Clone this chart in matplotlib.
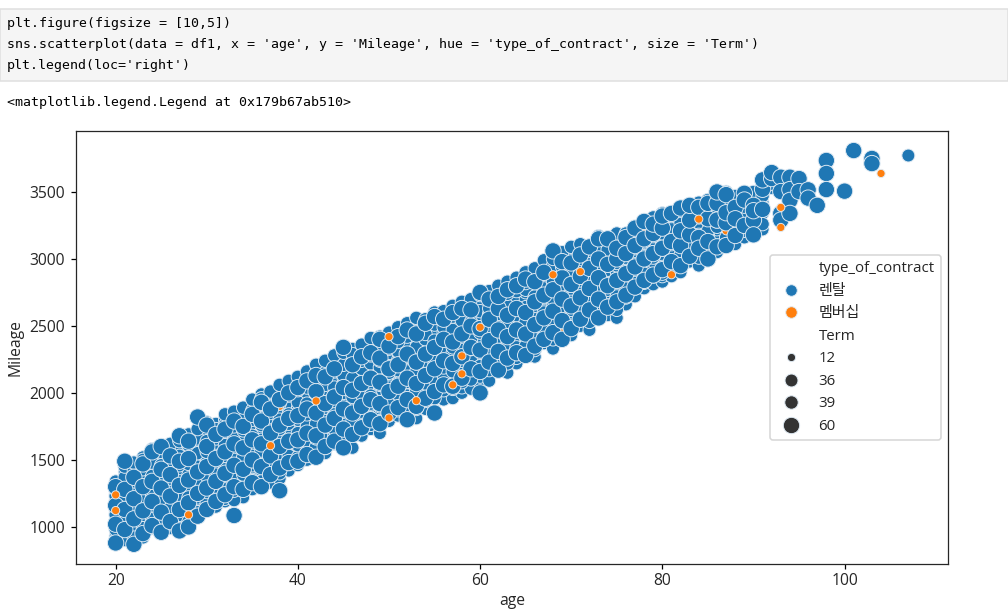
import matplotlib
matplotlib.use('Agg')
import matplotlib.pyplot as plt
import numpy as np
import pandas as pd
import seaborn as sns
from matplotlib.patches import Rectangle

plt.rcParams['font.family'] = ['Open Sans', 'Noto Sans CJK KR', 'DejaVu Sans']
plt.rcParams['lines.markersize'] = 7.4
plt.rcParams['text.color'] = '#262626'
plt.rcParams['axes.labelcolor'] = '#262626'
plt.rcParams['xtick.labelcolor'] = '#262626'
plt.rcParams['ytick.labelcolor'] = '#262626'
plt.rcParams['axes.edgecolor'] = '#262626'
plt.rcParams['xtick.major.pad'] = 2

W, H = 1008, 611
DPI = 112.5

# one row per age, 20 to 92
ages = list(range(20, 93))

# values, lower layer (Term 36)
mileage_36 = [
    [930, 1050, 1110, 1200, 1250, 1340],
    [900, 990, 1080, 1190, 1330, 1410],
    [950, 1010, 1120, 1270, 1320, 1450],
    [920, 1060, 1180, 1240, 1390, 1520],
    [990, 1090, 1140, 1270, 1420, 1510],
    [1030, 1170, 1220, 1360, 1490, 1550],
    [990, 1110, 1170, 1310, 1450, 1600],
    [1040, 1190, 1250, 1380, 1420, 1570],
    [1070, 1120, 1260, 1300, 1440, 1580],
    [1130, 1190, 1310, 1360, 1480, 1600, 1700],
    [1170, 1230, 1350, 1390, 1520, 1670],
    [1150, 1260, 1420, 1460, 1570, 1620, 1770],
    [1190, 1310, 1350, 1490, 1650, 1690, 1800],
    [1230, 1360, 1410, 1540, 1580, 1710, 1830],
    [1220, 1350, 1490, 1530, 1670, 1820, 1870],
    [1280, 1420, 1560, 1590, 1720, 1770, 1900],
    [1370, 1400, 1530, 1680, 1710, 1860, 1990],
    [1330, 1460, 1600, 1640, 1770, 1930, 1980],
    [1360, 1510, 1540, 1680, 1830, 1870, 2020],
    [1420, 1550, 1590, 1720, 1870, 1920, 2060],
    [1460, 1580, 1610, 1750, 1890, 1960, 2100],
    [1500, 1620, 1670, 1790, 1950, 1990, 2120],
    [1560, 1600, 1740, 1780, 1920, 2050, 2170],
    [1550, 1680, 1720, 1860, 1990, 2030, 2190],
    [1620, 1650, 1790, 1930, 1970, 2100, 2240],
    [1640, 1770, 1800, 1940, 2070, 2110, 2270],
    [1590, 1720, 1860, 1890, 2040, 2170, 2330],
    [1680, 1810, 1950, 1980, 2110, 2160, 2290],
    [1730, 1760, 1900, 2020, 2060, 2190, 2340],
    [1700, 1850, 1980, 2030, 2150, 2280, 2360],
    [1790, 1830, 1960, 2090, 2130, 2270, 2400],
    [1830, 1950, 1990, 2120, 2250, 2300, 2430],
    [1800, 1910, 2050, 2080, 2210, 2340, 2470],
    [1810, 1960, 2090, 2130, 2270, 2390, 2510],
    [1880, 2010, 2050, 2180, 2310, 2360, 2490],
    [1870, 2030, 2150, 2190, 2320, 2450, 2550],
    [1950, 2080, 2110, 2250, 2370, 2420, 2540],
    [1960, 2100, 2230, 2270, 2400, 2510, 2590],
    [2000, 2040, 2180, 2300, 2340, 2470, 2620],
    [2030, 2170, 2290, 2330, 2460, 2580, 2630],
    [2070, 2120, 2250, 2380, 2410, 2550, 2680],
    [2090, 2210, 2250, 2390, 2510, 2560, 2710],
    [2180, 2220, 2350, 2470, 2510, 2640, 2730],
    [2150, 2290, 2410, 2450, 2590, 2680, 2770],
    [2220, 2260, 2390, 2510, 2550, 2700, 2800],
    [2280, 2410, 2450, 2570, 2700, 2750, 2850],
    [2270, 2340, 2480, 2600, 2640, 2780, 2880],
    [2370, 2410, 2530, 2660, 2710, 2830, 2940],
    [2330, 2470, 2590, 2630, 2760, 2880, 2920],
    [2400, 2440, 2570, 2700, 2740, 2870, 2990],
    [2430, 2550, 2600, 2730, 2850, 2890, 3030],
    [2500, 2540, 2670, 2790, 2830, 2960],
    [2470, 2600, 2720, 2760, 2890, 3010, 3060],
    [2560, 2600, 2730, 2850, 2890, 3020],
    [2580, 2700, 2750, 2880, 3000, 3100],
    [2560, 2650, 2780, 2900, 2950, 3080, 3140],
    [2660, 2710, 2840, 2960, 3000, 3130],
    [2720, 2850, 2890, 3010, 3130, 3170],
    [2780, 2820, 2950, 3070, 3110, 3210],
    [2810, 2940, 2980, 3100, 3200, 3270],
    [2830, 2870, 3000, 3120, 3160, 3290],
    [2870, 3000, 3040, 3170, 3270],
    [2900, 2960, 3090, 3210, 3310],
    [2980, 3020, 3140, 3260, 3340],
    [2950, 3080, 3120, 3250, 3370],
    [2990, 3110, 3150, 3280, 3390],
    [3050, 3180, 3220, 3330, 3400],
    [3100, 3230, 3360, 3460],
    [3110, 3170, 3300, 3430],
    [3160, 3290, 3330, 3440],
    [3250, 3380, 3460],
    [3220, 3340, 3420],
    [3530, 3620],
]

# middle layer (Term 39), sits in the gaps of the other two
mileage_39 = [
    [900, 980, 1090, 1230, 1280],
    [1040, 1170, 1240, 1370, 1450],
    [920, 1090, 1160, 1240, 1420, 1480],
    [990, 1090, 1210, 1340, 1430, 1500],
    [1060, 1160, 1230, 1380, 1480, 1580],
    [1000, 1070, 1200, 1330, 1460, 1560],
    [1020, 1140, 1270, 1360, 1490, 1620],
    [1090, 1220, 1340, 1460, 1530, 1640],
    [1040, 1150, 1220, 1390, 1470, 1610, 1690],
    [1110, 1220, 1340, 1450, 1550, 1660, 1730],
    [1180, 1260, 1380, 1480, 1560, 1640, 1780],
    [1220, 1300, 1390, 1530, 1660, 1730],
    [1210, 1280, 1430, 1530, 1610, 1760, 1840],
    [1200, 1270, 1380, 1500, 1670, 1750, 1860],
    [1310, 1390, 1520, 1630, 1720, 1800, 1890],
    [1350, 1460, 1530, 1680, 1800, 1870, 1950],
    [1340, 1480, 1570, 1650, 1760, 1910, 1960],
    [1420, 1500, 1570, 1720, 1850, 1900, 2010],
    [1400, 1450, 1590, 1730, 1800, 1920, 2060],
    [1470, 1530, 1650, 1770, 1840, 1980, 2090],
    [1520, 1610, 1700, 1800, 1930, 2020, 2120],
    [1560, 1640, 1750, 1840, 1920, 2040, 2160],
    [1600, 1660, 1770, 1890, 1990, 2100, 2210],
    [1590, 1650, 1790, 1890, 2060, 2150, 2240],
    [1680, 1730, 1840, 1980, 2040, 2160, 2280],
    [1690, 1740, 1860, 2000, 2130, 2210, 2300],
    [1740, 1790, 1910, 1970, 2110, 2230, 2290],
    [1740, 1860, 1990, 2060, 2180, 2240, 2360],
    [1810, 1920, 1980, 2100, 2220, 2280, 2410],
    [1790, 1900, 2060, 2190, 2240, 2340, 2420],
    [1850, 1920, 2040, 2150, 2200, 2330, 2450],
    [1870, 1990, 2070, 2170, 2310, 2380, 2490],
    [1870, 1980, 2130, 2160, 2270, 2420, 2520],
    [1880, 2020, 2160, 2220, 2340, 2450, 2560],
    [1940, 2070, 2130, 2240, 2400, 2440, 2550],
    [1960, 2100, 2220, 2260, 2390, 2510, 2600],
    [2020, 2130, 2190, 2310, 2450, 2490, 2610],
    [2030, 2160, 2300, 2340, 2470, 2570, 2650],
    [2080, 2110, 2240, 2370, 2420, 2540, 2680],
    [2100, 2240, 2360, 2400, 2530, 2640, 2700],
    [2180, 2200, 2310, 2450, 2490, 2610, 2730],
    [2170, 2280, 2320, 2460, 2590, 2630, 2760],
    [2250, 2300, 2420, 2540, 2590, 2700, 2800],
    [2220, 2350, 2490, 2520, 2650, 2740, 2830],
    [2290, 2340, 2460, 2580, 2630, 2760, 2860],
    [2350, 2490, 2530, 2640, 2770, 2820, 2900],
    [2320, 2410, 2550, 2670, 2720, 2850, 2930],
    [2440, 2480, 2600, 2730, 2780, 2900, 2990],
    [2400, 2540, 2660, 2700, 2830, 2950, 3000],
    [2470, 2510, 2640, 2770, 2810, 2940, 3050],
    [2490, 2620, 2680, 2800, 2920, 2970, 3090],
    [2560, 2610, 2740, 2860, 2900, 3030, 3110],
    [2530, 2670, 2790, 2830, 2960, 3080],
    [2620, 2670, 2800, 2920, 2960, 3090, 3170],
    [2640, 2770, 2820, 2950, 3070, 3150],
    [2620, 2720, 2850, 2970, 3020, 3140, 3190],
    [2730, 2780, 2910, 3030, 3070, 3190],
    [2780, 2920, 2960, 3080, 3190, 3240],
    [2840, 2890, 3020, 3130, 3180, 3280],
    [2870, 3010, 3050, 3170, 3260, 3310],
    [2890, 2940, 3070, 3190, 3230, 3340],
    [2930, 3070, 3110, 3230, 3320],
    [2960, 3030, 3150, 3270, 3360],
    [3040, 3090, 3200, 3310, 3380],
    [3010, 3140, 3180, 3310, 3420],
    [3040, 3170, 3210, 3340, 3440],
    [3100, 3240, 3280, 3380, 3460],
    [3160, 3290, 3410, 3500],
    [3170, 3230, 3360, 3470],
    [3210, 3340, 3390, 3480],
    [3300, 3420, 3500],
    [3260, 3390, 3470],
    [3560, 3600],
]

# values, upper layer (Term 60)
mileage_60 = [
    [880, 1020, 1160, 1300],
    [980, 1130, 1280, 1490],
    [870, 1060, 1210, 1370],
    [950, 1120, 1300, 1470],
    [1010, 1190, 1340, 1560],
    [960, 1110, 1290, 1430, 1600],
    [1040, 1230, 1390, 1530],
    [970, 1130, 1310, 1490, 1680],
    [1000, 1180, 1350, 1510, 1640],
    [1080, 1250, 1410, 1820],
    [1130, 1290, 1450, 1600, 1760],
    [1190, 1340, 1510, 1690],
    [1240, 1400, 1560, 1730],
    [1085, 1300, 1460, 1620, 1790],
    [1280, 1430, 1590, 1750],
    [1330, 1500, 1650, 1840],
    [1300, 1450, 1620, 1790, 1930],
    [1390, 1530, 1700, 1880],
    [1270, 1440, 1600, 1760, 1950],
    [1480, 1640, 1810, 2000],
    [1490, 1650, 1830, 2040],
    [1540, 1700, 1880, 2090],
    [1520, 1680, 1850, 2010, 2130],
    [1600, 1760, 1920, 2120],
    [1640, 1810, 1970, 2180],
    [1590, 1730, 1880, 2040, 2340],
    [1690, 1850, 2020, 2210],
    [1740, 1900, 2070, 2270],
    [1800, 1950, 2110, 2300],
    [1770, 1920, 2080, 2260, 2400],
    [1850, 2010, 2180, 2350],
    [1890, 2050, 2210, 2420],
    [1800, 1950, 2110, 2290, 2470],
    [1900, 2070, 2230, 2440],
    [1960, 2130, 2290, 2520],
    [1850, 2010, 2180, 2340, 2570],
    [2060, 2240, 2400, 2550],
    [2050, 2220, 2380, 2600],
    [2110, 2270, 2440, 2630],
    [2180, 2340, 2500, 2620],
    [2000, 2160, 2320, 2480, 2750],
    [2230, 2390, 2550, 2700],
    [2170, 2310, 2470, 2630, 2720],
    [2260, 2420, 2580, 2770],
    [2300, 2470, 2630, 2800],
    [2280, 2440, 2600, 2850],
    [2350, 2510, 2680, 2830],
    [2400, 2560, 2730, 2900],
    [2450, 2610, 2770, 3060],
    [2400, 2540, 2700, 2860, 2980],
    [2480, 2650, 2810, 2970],
    [2550, 2710, 2870, 3030],
    [2620, 2780, 2930, 3090],
    [2560, 2700, 2860, 3000, 3150],
    [2640, 2800, 2960, 3150],
    [2680, 2840, 3000, 3080],
    [2730, 2890, 3040, 3160],
    [2790, 2940, 3100, 3230],
    [2840, 3000, 3150, 3280],
    [2880, 3040, 3190, 3260],
    [2920, 3080, 3230, 3320],
    [2980, 3130, 3340],
    [2950, 3100, 3210, 3380],
    [3020, 3180, 3290, 3400],
    [3160, 3385, 3080],
    [3000, 3130, 3300, 3415],
    [3090, 3290, 3415, 3500],
    [3100, 3270, 3345, 3480],
    [3175, 3385, 3300],
    [3490, 3440, 3250],
    [3290, 3400, 3360, 3180],
    [3370, 3520, 3590],
    [3600, 3645],
]

# small group at the top end, one age per point
tail_age = [93, 93, 93, 93, 94, 94, 94, 94, 95, 95, 96, 96, 97, 98, 98, 98, 100, 101, 103, 103]
tail_mileage = [3610, 3503, 3340, 3290, 3610, 3518, 3437, 3340, 3600, 3503, 3516, 3454,
                3400, 3735, 3638, 3518, 3506, 3809, 3750, 3712]
tail_term = [60] * 20

# the lone point at the far right
last_age = [107]
last_mileage = [3772]

# membership contracts, always Term 12
member_age = [20, 20, 28, 37, 42, 50, 50, 53, 57, 58, 58, 60, 68, 71, 81, 84, 93, 93, 104]
member_mileage = [1239, 1122, 1090, 1606, 1940, 2420, 1813, 1942, 2060, 2142, 2276,
                  2490, 2882, 2905, 2882, 3297, 3385, 3235, 3638]

# membership points that are mostly covered by rentals
covered_age = [38, 59, 62, 69, 78, 87]
covered_mileage = [1900, 2307, 2180, 2447, 3222, 3210]

code_lines = ["plt.figure(figsize = [10,5])",
              "sns.scatterplot(data = df1, x = 'age', y = 'Mileage', hue = 'type_of_contract', size = 'Term')",
              "plt.legend(loc='right')"]
output_line = "<matplotlib.legend.Legend at 0x179b67ab510>"


def flatten(rows, row_ages):
    xs, ys = [], []
    for a, vals in zip(row_ages, rows):
        for v in vals:
            xs.append(a)
            ys.append(v)
    return xs, ys


x36, y36 = flatten(mileage_36, ages)
x39, y39 = flatten(mileage_39, ages)
x60, y60 = flatten(mileage_60, ages)

# order matters: later rows are painted over earlier ones
df1 = pd.concat([
    pd.DataFrame({'age': x36, 'Mileage': y36, 'type_of_contract': '렌탈', 'Term': 36}),
    pd.DataFrame({'age': last_age, 'Mileage': last_mileage, 'type_of_contract': '렌탈', 'Term': 36}),
    pd.DataFrame({'age': x39, 'Mileage': y39, 'type_of_contract': '렌탈', 'Term': 39}),
    pd.DataFrame({'age': covered_age, 'Mileage': covered_mileage, 'type_of_contract': '멤버십', 'Term': 12}),
    pd.DataFrame({'age': x60, 'Mileage': y60, 'type_of_contract': '렌탈', 'Term': 60}),
    pd.DataFrame({'age': tail_age, 'Mileage': tail_mileage, 'type_of_contract': '렌탈', 'Term': tail_term}),
    pd.DataFrame({'age': member_age, 'Mileage': member_mileage, 'type_of_contract': '멤버십', 'Term': 12}),
], ignore_index=True)

fig = plt.figure(figsize=(W / DPI, H / DPI), dpi=DPI)

# notebook cell around the chart
fig.add_artist(Rectangle((0, 1 - 81 / H), 1, 72 / H, transform=fig.transFigure,
                         facecolor='#f5f5f5', edgecolor='#e0e0e0', linewidth=1))
for i, txt in enumerate(code_lines):
    fig.text(7 / W, 1 - (24 + i * 20.5) / H, txt, family='DejaVu Sans Mono', fontsize=8.5,
             color='#000000', va='center')
fig.text(7 / W, 1 - 103 / H, output_line, family='DejaVu Sans Mono', fontsize=8.5,
         color='#000000', va='center')

ax = fig.add_axes([76 / W, 1 - 564 / H, 872 / W, 433 / H])
sns.scatterplot(data=df1, x='age', y='Mileage', hue='type_of_contract', size='Term',
                hue_order=['렌탈', '멤버십'], edgecolor='#dfeaf3', linewidth=0.6, ax=ax)
plt.legend(loc='right', fontsize=9.6, labelspacing=0.5)
ax.xaxis.labelpad = 3
ax.set_xlim(15.65, 111.35)
ax.set_ylim(723, 3955)

fig.savefig('out.png', dpi=DPI)
